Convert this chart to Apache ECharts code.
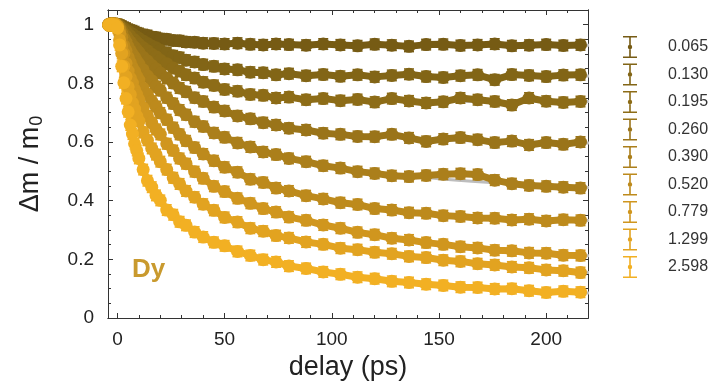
<!DOCTYPE html>
<html>
<head>
<meta charset="utf-8">
<script src="https://cdn.jsdelivr.net/npm/echarts@6/dist/echarts.min.js"></script>
<style>
  html, body { margin: 0; padding: 0; background: #fff; }
  #chart { width: 717px; height: 391px; }
</style>
</head>
<body>
<div id="chart"></div>
<script>
// Pump–probe delay (ps) at which each demagnetisation trace is sampled
const delays = [-4, -3, -2, -1, 0, 1, 2, 3, 4, 5, 6, 7, 8, 9, 10, 12, 14, 16, 18, 20,
  23, 26, 29, 32, 36, 40, 45, 50, 56, 62, 68, 74, 80, 88, 96, 104, 112, 120, 128, 136,
  144, 152, 160, 168, 176, 184, 192, 200, 208, 216];

// Fluence labels shown in the legend
const fluences = ['0.065', '0.130', '0.195', '0.260', '0.390', '0.520', '0.779', '1.299', '2.598'];

// Normalised magnetisation Δm / m0 for each fluence
const dm065 = [1.0, 1.004, 0.998, 1.002, 0.999, 0.998, 0.995, 0.991, 0.988, 0.984, 0.981, 0.979, 0.976, 0.972, 0.97,
  0.966, 0.963, 0.958, 0.956, 0.952, 0.95, 0.946, 0.945, 0.941, 0.94, 0.937,
  0.936, 0.934, 0.937, 0.933, 0.931, 0.934, 0.932,
  0.93, 0.934, 0.931, 0.928, 0.933, 0.93, 0.926, 0.932, 0.933, 0.929, 0.931, 0.934, 0.928, 0.93, 0.932, 0.929, 0.931];
const dm130 = [0.998, 1.003, 1.0, 0.997, 1.001, 0.997, 0.992, 0.988, 0.982, 0.978, 0.972, 0.968, 0.962, 0.958, 0.953,
  0.944, 0.936, 0.927, 0.921, 0.913, 0.904, 0.894, 0.888, 0.879, 0.873, 0.864,
  0.858, 0.849, 0.846, 0.838, 0.836, 0.829, 0.833,
  0.826, 0.83, 0.824, 0.829, 0.822, 0.827, 0.831, 0.823, 0.82, 0.826, 0.829, 0.812, 0.83, 0.827, 0.823, 0.828, 0.829];
const dm195 = [1.001, 0.998, 1.003, 0.999, 0.998, 0.996, 0.989, 0.982, 0.976, 0.967, 0.961, 0.952, 0.947, 0.939, 0.933,
  0.921, 0.911, 0.899, 0.891, 0.879, 0.867, 0.852, 0.842, 0.829, 0.818, 0.804,
  0.793, 0.779, 0.773, 0.762, 0.759, 0.75, 0.753,
  0.744, 0.748, 0.741, 0.745, 0.736, 0.748, 0.74, 0.733, 0.737, 0.75, 0.744, 0.738, 0.726, 0.75, 0.739, 0.735, 0.738];
const dm260 = [0.999, 1.002, 0.997, 1.001, 1.0, 0.994, 0.981, 0.969, 0.961, 0.949, 0.941, 0.929, 0.923, 0.913, 0.906,
  0.889, 0.876, 0.861, 0.849, 0.835, 0.818, 0.801, 0.784, 0.771, 0.751, 0.738,
  0.719, 0.706, 0.689, 0.679, 0.666, 0.658, 0.647,
  0.641, 0.63, 0.626, 0.619, 0.618, 0.626, 0.614, 0.602, 0.61, 0.615, 0.608, 0.598, 0.603, 0.59, 0.598, 0.592, 0.6];
const dm390 = [1.0, 0.997, 1.002, 0.999, 0.996, 0.988, 0.971, 0.954, 0.941, 0.924, 0.911, 0.899, 0.889, 0.876, 0.866,
  0.846, 0.825, 0.809, 0.789, 0.776, 0.751, 0.731, 0.709, 0.693, 0.669, 0.653,
  0.631, 0.616, 0.597, 0.583, 0.566, 0.557, 0.544,
  0.533, 0.519, 0.511, 0.499, 0.493, 0.485, 0.482, 0.486, 0.49, 0.492, 0.489, 0.47, 0.458, 0.452, 0.449, 0.446, 0.443];
const dm520 = [0.998, 1.002, 0.999, 1.001, 0.997, 0.982, 0.957, 0.929, 0.911, 0.889, 0.871, 0.853, 0.841, 0.824, 0.811,
  0.783, 0.762, 0.739, 0.721, 0.699, 0.676, 0.649, 0.626, 0.604, 0.581, 0.559,
  0.536, 0.514, 0.497, 0.473, 0.462, 0.443, 0.433,
  0.417, 0.406, 0.393, 0.387, 0.373, 0.368, 0.359, 0.357, 0.349, 0.346, 0.341, 0.34, 0.334, 0.337, 0.331, 0.335, 0.333];
const dm779 = [1.0, 0.998, 1.003, 0.997, 0.995, 0.97, 0.928, 0.902, 0.868, 0.842, 0.818, 0.801, 0.778, 0.762, 0.744,
  0.716, 0.689, 0.666, 0.643, 0.626, 0.594, 0.571, 0.544, 0.526, 0.499, 0.476,
  0.449, 0.431, 0.408, 0.391, 0.373, 0.361, 0.344,
  0.333, 0.317, 0.306, 0.292, 0.284, 0.272, 0.266, 0.257, 0.251, 0.243, 0.239, 0.231, 0.229, 0.222, 0.221, 0.214, 0.213];
const dm1299 = [1.001, 0.997, 1.0, 1.002, 0.993, 0.948, 0.902, 0.858, 0.823, 0.788, 0.762, 0.733, 0.712, 0.688, 0.671,
  0.633, 0.606, 0.578, 0.557, 0.533, 0.506, 0.478, 0.457, 0.433, 0.412, 0.388,
  0.367, 0.343, 0.327, 0.306, 0.296, 0.281, 0.273,
  0.259, 0.251, 0.238, 0.233, 0.224, 0.219, 0.21, 0.206, 0.197, 0.193, 0.185, 0.181, 0.174, 0.171, 0.164, 0.161, 0.155];
const dm2598 = [0.998, 1.002, 1.0, 0.997, 0.988, 0.931, 0.858, 0.802, 0.748, 0.703, 0.658, 0.627, 0.594, 0.571, 0.544,
  0.506, 0.468, 0.446, 0.418, 0.401, 0.368, 0.352, 0.328, 0.316, 0.293, 0.276,
  0.258, 0.246, 0.227, 0.213, 0.199, 0.191, 0.177,
  0.169, 0.157, 0.149, 0.139, 0.134, 0.125, 0.121, 0.115, 0.111, 0.105, 0.104, 0.099, 0.1, 0.093, 0.087, 0.091, 0.088];

// Measurement uncertainty (± in Δm / m0) for each fluence
const dmError = [0.018, 0.018, 0.018, 0.018, 0.018, 0.018, 0.018, 0.018, 0.018];

// Fitted decay curves (grey), sampled at fitDelays
const fitDelays = [0, 2, 5, 10, 20, 35, 55, 80, 110, 150, 190, 220];
const fit065 = [1, 0.996, 0.985, 0.971, 0.953, 0.941, 0.935, 0.932, 0.931, 0.93, 0.93, 0.93];
const fit130 = [1, 0.993, 0.978, 0.953, 0.913, 0.875, 0.847, 0.833, 0.827, 0.825, 0.825, 0.825];
const fit195 = [1, 0.99, 0.968, 0.934, 0.88, 0.821, 0.775, 0.752, 0.742, 0.739, 0.738, 0.738];
const fit260 = [1, 0.982, 0.95, 0.906, 0.836, 0.757, 0.692, 0.65, 0.625, 0.608, 0.6, 0.597];
const fit390 = [1, 0.972, 0.925, 0.866, 0.776, 0.676, 0.6, 0.546, 0.507, 0.475, 0.455, 0.445];
const fit520 = [1, 0.958, 0.89, 0.81, 0.7, 0.587, 0.5, 0.432, 0.386, 0.352, 0.337, 0.332];
const fit779 = [1, 0.93, 0.842, 0.745, 0.626, 0.505, 0.412, 0.345, 0.296, 0.253, 0.226, 0.212];
const fit1299 = [1, 0.9, 0.788, 0.67, 0.534, 0.418, 0.33, 0.272, 0.232, 0.198, 0.172, 0.155];
const fit2598 = [1, 0.858, 0.703, 0.544, 0.4, 0.3, 0.232, 0.178, 0.143, 0.111, 0.095, 0.085];

// Axis tick values
const xMajorTicks = [0, 50, 100, 150, 200];
const xMinorTicks = [10, 20, 30, 40, 60, 70, 80, 90, 110, 120, 130, 140, 160, 170, 180, 190, 210];
const yMajorTicks = [0, 0.2, 0.4, 0.6, 0.8, 1];
const yMinorTicks = [0.05, 0.1, 0.15, 0.25, 0.3, 0.35, 0.45, 0.5, 0.55, 0.65, 0.7, 0.75, 0.85, 0.9, 0.95, 1.05];

const traces = [dm065, dm130, dm195, dm260, dm390, dm520, dm779, dm1299, dm2598];
const fits = [fit065, fit130, fit195, fit260, fit390, fit520, fit779, fit1299, fit2598];

// Dark olive for the lowest fluence through to bright amber for the highest
const palette = ['#765b14', '#826516', '#8d6c17', '#9a7419', '#ab7f1b', '#bd8a1c', '#d0961e', '#e2a320', '#f2b023'];

const FONT = '"Liberation Sans", Arial, Helvetica, sans-serif';
const AXIS_COLOR = '#333';
const X_MIN = -4.4, X_MAX = 219.5;
const Y_MIN = 0, Y_MAX = 1.05;

// Error-bar legend glyph: caps, stem and a centre dot
const ERRBAR_ICON = 'path://M0,0H14V1.6H7.8V20.4H14V22H0V20.4H6.2V1.6H0Z' +
  'M4.8,11A2.2,2.2,0,1,1,9.2,11A2.2,2.2,0,1,1,4.8,11Z';

function xAxisDef(position, ticks, tickLen, withLabels) {
  const ax = {
    type: 'value', min: X_MIN, max: X_MAX, position: position,
    axisLine: { show: true, onZero: false, lineStyle: { color: AXIS_COLOR, width: 1 } },
    axisTick: { show: true, inside: true, length: tickLen, customValues: ticks,
      lineStyle: { color: AXIS_COLOR, width: 1 } },
    axisLabel: { show: false },
    splitLine: { show: false }
  };
  if (withLabels) {
    ax.axisLabel = { show: true, customValues: ticks, fontFamily: FONT, fontSize: 19,
      color: '#222', margin: 12 };
    ax.name = 'delay (ps)';
    ax.nameLocation = 'middle';
    ax.nameGap = 36;
    ax.nameTextStyle = { fontFamily: FONT, fontSize: 27, color: '#222' };
  }
  return ax;
}

function yAxisDef(position, ticks, tickLen, withLabels) {
  const ax = {
    type: 'value', min: Y_MIN, max: Y_MAX, position: position,
    axisLine: { show: true, onZero: false, lineStyle: { color: AXIS_COLOR, width: 1 } },
    axisTick: { show: true, inside: true, length: tickLen, customValues: ticks,
      lineStyle: { color: AXIS_COLOR, width: 1 } },
    axisLabel: { show: false },
    splitLine: { show: false }
  };
  if (withLabels) {
    ax.axisLabel = { show: true, customValues: ticks, fontFamily: FONT, fontSize: 19,
      color: '#222', margin: 14 };
    ax.name = '{a|Δm / m}{b|0}';
    ax.nameLocation = 'middle';
    ax.nameGap = 62;
    ax.nameTextStyle = {
      fontFamily: FONT, color: '#222',
      rich: {
        a: { fontFamily: FONT, fontSize: 27, color: '#222' },
        b: { fontFamily: FONT, fontSize: 18, color: '#222', padding: [12, 0, 0, 1] }
      }
    };
  }
  return ax;
}

// Vertical error bar with caps at one measured point
function renderErrorBar(params, api) {
  const t = api.value(0), v = api.value(1), e = api.value(2);
  const top = api.coord([t, v + e]);
  const bot = api.coord([t, v - e]);
  const half = 5;
  const stroke = api.visual('color');
  const style = { stroke: stroke, lineWidth: 1.5 };
  return {
    type: 'group',
    children: [
      { type: 'line', shape: { x1: top[0], y1: top[1], x2: bot[0], y2: bot[1] }, style: style },
      { type: 'line', shape: { x1: top[0] - half, y1: top[1], x2: top[0] + half, y2: top[1] }, style: style },
      { type: 'line', shape: { x1: bot[0] - half, y1: bot[1], x2: bot[0] + half, y2: bot[1] }, style: style }
    ]
  };
}

const series = [];
fits.forEach(function (fit, i) {
  series.push({
    name: 'fit ' + fluences[i], type: 'line', smooth: 0.4, showSymbol: false,
    xAxisIndex: 0, yAxisIndex: 0, z: 1, silent: true,
    lineStyle: { color: '#bdbdbd', width: 3 },
    data: fitDelays.map(function (t, k) { return [t, fit[k]]; })
  });
});
traces.forEach(function (trace, i) {
  series.push({
    name: 'err ' + fluences[i], type: 'custom', xAxisIndex: 0, yAxisIndex: 0, z: 2,
    silent: true, clip: true,
    itemStyle: { color: palette[i] },
    renderItem: renderErrorBar,
    encode: { x: 0, y: 1 },
    data: delays.map(function (t, k) { return [t, trace[k], dmError[i]]; })
  });
  series.push({
    name: fluences[i], type: 'line', xAxisIndex: 0, yAxisIndex: 0, z: 2,
    symbol: 'circle', symbolSize: 13, showAllSymbol: true,
    itemStyle: { color: palette[i] },
    lineStyle: { color: palette[i], width: 7 },
    data: delays.map(function (t, k) { return [t, trace[k]]; })
  });
});

const chart = echarts.init(document.getElementById('chart'), null, { renderer: 'canvas' });
chart.setOption({
  animation: false,
  backgroundColor: '#fff',
  grid: { left: 108, right: 129, top: 10, bottom: 73, containLabel: false },
  xAxis: [
    xAxisDef('bottom', xMajorTicks, 5, true),
    xAxisDef('bottom', xMinorTicks, 3, false),
    xAxisDef('top', xMajorTicks, 5, false),
    xAxisDef('top', xMinorTicks, 3, false)
  ],
  yAxis: [
    yAxisDef('left', yMajorTicks, 5, true),
    yAxisDef('left', yMinorTicks, 3, false),
    yAxisDef('right', yMajorTicks, 5, false),
    yAxisDef('right', yMinorTicks, 3, false)
  ],
  legend: {
    orient: 'vertical', left: 618, top: 31,
    itemWidth: 14, itemHeight: 22, itemGap: 5.5,
    selectedMode: false,
    textStyle: { fontFamily: FONT, fontSize: 16, color: '#333', padding: [0, 0, 0, 26] },
    data: fluences.map(function (f, i) {
      return { name: f, icon: ERRBAR_ICON, itemStyle: { color: palette[i] } };
    })
  },
  graphic: [{
    type: 'text', left: 132, top: 257,
    style: { text: 'Dy', fontFamily: FONT, fontSize: 26, fontWeight: 'bold', fill: '#c99a2e' }
  }],
  series: series
});
</script>
</body>
</html>
